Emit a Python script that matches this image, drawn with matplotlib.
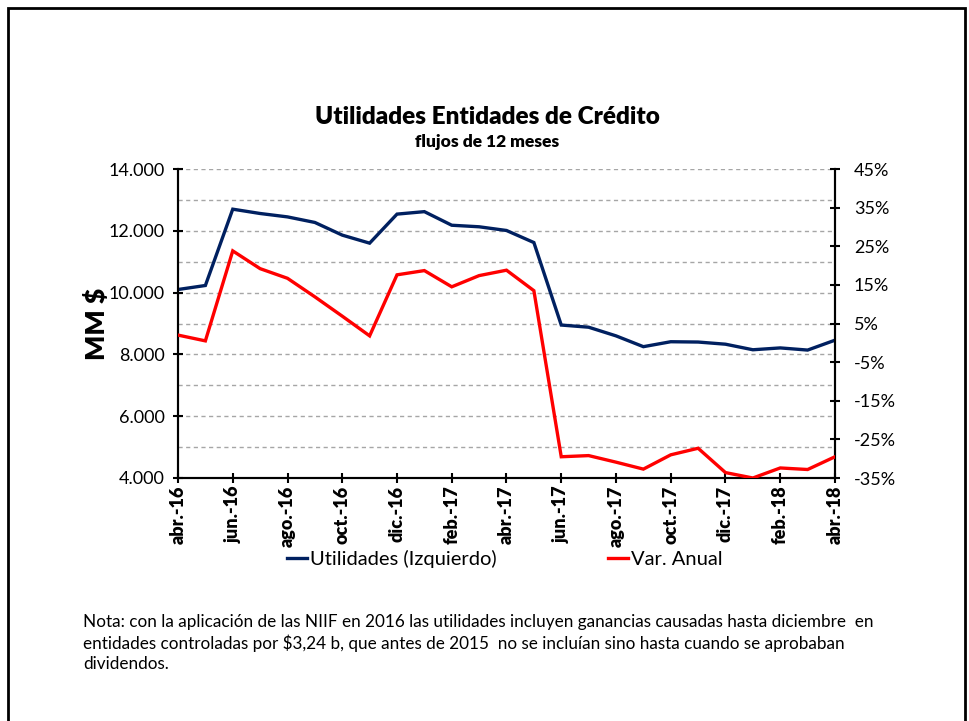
import matplotlib
matplotlib.use("Agg")
import matplotlib.pyplot as plt
from matplotlib.ticker import FuncFormatter, MultipleLocator, FixedLocator
from matplotlib.patches import Rectangle

plt.rcParams['font.family'] = ['Lato', 'DejaVu Sans']

months = ["abr.-16", "may.-16", "jun.-16", "jul.-16", "ago.-16", "sep.-16", "oct.-16",
          "nov.-16", "dic.-16", "ene.-17", "feb.-17", "mar.-17", "abr.-17", "may.-17",
          "jun.-17", "jul.-17", "ago.-17", "sep.-17", "oct.-17", "nov.-17", "dic.-17",
          "ene.-18", "feb.-18", "mar.-18", "abr.-18"]

utilidades = [10100, 10230, 12700, 12560, 12450, 12270, 11860, 11600, 12540, 12620,
              12180, 12130, 12010, 11620, 8950, 8880, 8600, 8250, 8410, 8400, 8330,
              8150, 8210, 8140, 8460]

var_anual = [2.0, 0.5, 23.8, 19.2, 16.7, 11.9, 6.9, 1.8, 17.6, 18.7, 14.5, 17.4, 18.8,
             13.5, -29.5, -29.2, -30.9, -32.7, -29.0, -27.3, -33.6, -35.0, -32.4, -32.8,
             -29.5]

navy = "#002060"
red = "#FF0000"

fig = plt.figure(figsize=(9.69, 7.21), dpi=100)
fig.patches.append(Rectangle((8/969, -0.05), (965-8)/969, 1 - 8/721 + 0.05,
                             transform=fig.transFigure, fill=False,
                             edgecolor="black", linewidth=2))

ax = fig.add_axes([178/969, 1-478/721, (835-178)/969, (478-169)/721])
ax2 = ax.twinx()

x = list(range(len(months)))
l1, = ax.plot(x, utilidades, color=navy, linewidth=2.4, solid_joinstyle='miter', zorder=3)
l2, = ax2.plot(x, var_anual, color=red, linewidth=2.4, solid_joinstyle='miter', zorder=3)

ax.set_xlim(0, len(months)-1)
ax.set_ylim(4000, 14000)
ax2.set_ylim(-35, 45)

ax.yaxis.set_major_locator(MultipleLocator(2000))
ax.yaxis.set_minor_locator(MultipleLocator(1000))
ax.yaxis.set_major_formatter(FuncFormatter(lambda v, p: f"{int(v):,}".replace(",", ".")))
ax.grid(axis='y', which='both', linestyle=(0, (3, 2.5)), color="#A6A6A6", linewidth=1)
ax.set_axisbelow(True)

ax2.yaxis.set_major_locator(FixedLocator(list(range(-35, 46, 10))))
ax2.yaxis.set_major_formatter(FuncFormatter(lambda v, p: f"{int(round(v))}%"))

ax.set_xticks(x[::2])
ax.set_xticklabels(months[::2], rotation=90, fontweight='heavy', fontsize=13)

for a in (ax, ax2):
    for s in a.spines.values():
        s.set_linewidth(1.5)
    a.tick_params(axis='both', which='major', direction='inout', length=7, width=1.5,
                  labelsize=12.5, pad=4)
ax.tick_params(axis='y', which='minor', length=0)
ax.tick_params(axis='x', labelsize=13, pad=2)
ax2.tick_params(axis='y', labelsize=13, pad=10)
ax.tick_params(axis='y', labelsize=13, pad=6)
ax.spines['top'].set_visible(False)
ax2.spines['top'].set_visible(False)

ax.set_ylabel("MM $", fontsize=19, fontweight='heavy', labelpad=0)

fig.text(487/969, 1-117/721, "Utilidades Entidades de Crédito", ha='center', va='center',
         fontsize=17.5, fontweight='heavy')
fig.text(487/969, 1-142/721, "flujos de 12 meses", ha='center', va='center',
         fontsize=12.5, fontweight='heavy')

fig.legend([l1, l2], ["Utilidades (Izquierdo)", "Var. Anual"], loc='center',
           bbox_to_anchor=(505/969, 1-559/721), ncol=2, frameon=False, fontsize=14.5,
           handlelength=1.0, handletextpad=0.15, columnspacing=5.5)

note = ("Nota: con la aplicación de las NIIF en 2016 las utilidades incluyen ganancias causadas hasta diciembre  en\n"
        "entidades controladas por $3,24 b, que antes de 2015  no se incluían sino hasta cuando se aprobaban\n"
        "dividendos.")
fig.text(83/969, 1-614/721, note, ha='left', va='top', fontsize=12.3, linespacing=1.3)

fig.savefig("out.png", dpi=100)
